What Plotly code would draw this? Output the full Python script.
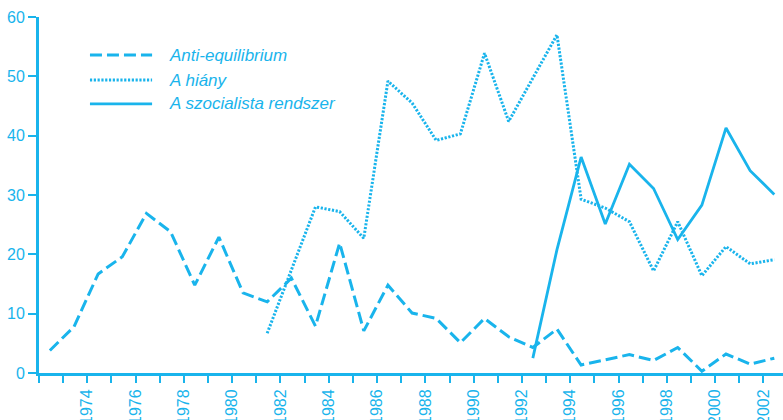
import plotly.graph_objects as go

years = list(range(1972, 2003))

anti_equilibrium = [3.8, 7.8, 16.7, 19.6, 26.9, 23.8, 14.8, 22.9, 13.5, 12.0,
                    16.0, 7.9, 21.9, 7.1, 14.8, 10.1, 9.2, 5.1, 9.2, 6.1,
                    4.3, 7.4, 1.35, 2.2, 3.1, 2.1, 4.3, 0.3, 3.2, 1.5, 2.5]

a_hiany = [None] * 9 + [6.7, 17.3, 28.0, 27.2, 22.7, 49.2, 45.5, 39.2, 40.3,
                        53.9, 42.4, 49.7, 57.0, 29.3, 27.8, 25.5, 17.2, 25.5,
                        16.4, 21.3, 18.4, 19.1]

a_szocialista = [None] * 20 + [2.5, 20.8, 36.4, 25.1, 35.2, 31.1, 22.5, 28.3,
                               41.3, 34.1, 30.1]

series_names = ["Anti-equilibrium", "A hiány", "A szocialista rendszer"]
tick_labels = [str(y) if (y % 2 == 0 and y > 1972) else "" for y in years]

C = "#19b4ec"
FONT = "Liberation Sans, Arial, sans-serif"

xpos = [y + 0.45 for y in years]

styles = [("12px,5px", 3), ("2.2px,1.6px", 3), ("solid", 2.8)]

fig = go.Figure()
for name, vals, (dash, w) in zip(series_names, [anti_equilibrium, a_hiany, a_szocialista], styles):
    fig.add_trace(go.Scatter(x=xpos, y=vals, mode="lines", name=name,
                             line=dict(color=C, width=w, dash=dash),
                             connectgaps=False, showlegend=False, cliponaxis=False,
                             hoverinfo="skip"))

# manual legend
leg_y = [0.893, 0.823, 0.756]
for name, (dash, w), yy in zip(series_names, styles, leg_y):
    fig.add_shape(type="line", xref="paper", yref="paper", x0=0.0685, x1=0.152, y0=yy, y1=yy,
                  line=dict(color=C, width=w, dash=dash))
    fig.add_annotation(xref="paper", yref="paper", x=0.172, y=yy, text=f"<i>{name}</i>",
                       showarrow=False, xanchor="left", yanchor="middle",
                       font=dict(family=FONT, size=17, color=C))

fig.update_layout(
    width=783, height=420,
    margin=dict(l=39, r=0, t=17, b=47, pad=0, autoexpand=False),
    paper_bgcolor="white", plot_bgcolor="white",
    font=dict(family=FONT, color=C),
)
fig.update_xaxes(range=[1972, 2002.81], tickmode="array", tickvals=years, ticktext=tick_labels,
                 tickangle=-90, ticks="outside", ticklen=7, tickwidth=2, tickcolor=C,
                 showline=True, linecolor=C, linewidth=3, showgrid=False, zeroline=False,
                 automargin=False,
                 tickfont=dict(family=FONT, size=16, color=C))
fig.update_yaxes(range=[0, 60], tickvals=[0, 10, 20, 30, 40, 50, 60],
                 ticks="outside", ticklen=8, tickwidth=2, tickcolor=C,
                 showline=True, linecolor=C, linewidth=3, showgrid=False, zeroline=False,
                 automargin=False,
                 tickfont=dict(family=FONT, size=16, color=C))

fig.write_html("out.html", config={"displayModeBar": False},
               post_script="document.body.style.margin='0px';")
